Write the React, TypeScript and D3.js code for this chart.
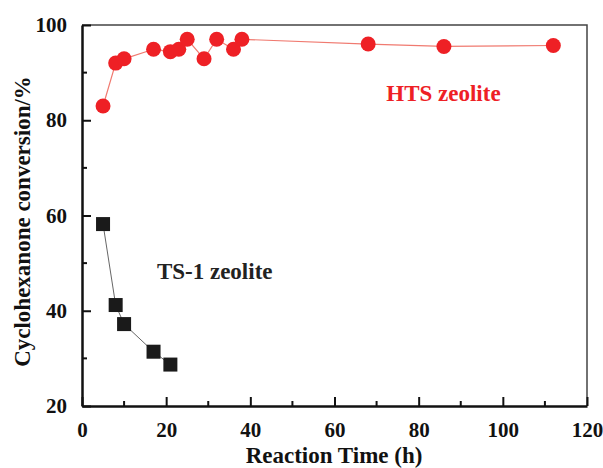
import React, { useEffect, useRef } from 'react';
import * as d3 from 'd3';

// Reaction time (h) and cyclohexanone conversion (%)
const htsTime = [5, 8, 10, 17, 21, 23, 25, 29, 32, 36, 38, 68, 86, 112];
const htsConversion = [83.0, 92.0, 92.9, 94.9, 94.4, 94.9, 97.0, 92.9, 97.0, 94.9, 97.0, 96.0, 95.5, 95.7];

const ts1Time = [5, 8, 10, 17, 21];
const ts1Conversion = [58.2, 41.2, 37.2, 31.4, 28.7];

const xTicks = [0, 20, 40, 60, 80, 100, 120];
const yTicks = [20, 40, 60, 80, 100];

const W = 603;
const H = 468;

function App() {
  const ref = useRef<SVGSVGElement>(null);

  useEffect(() => {
    const svg = d3.select(ref.current);
    svg.selectAll('*').remove();

    const margin = { top: 25, right: 16, bottom: 62, left: 82 };
    const width = W - margin.left - margin.right;
    const height = H - margin.top - margin.bottom;
    const font = '"Liberation Serif", "Times New Roman", serif';

    const g = svg.append('g').attr('transform', `translate(${margin.left},${margin.top})`);

    const x = d3.scaleLinear().domain([0, 120]).range([0, width]);
    const y = d3.scaleLinear().domain([20, 100]).range([height, 0]);

    // top / right frame
    g.append('path')
      .attr('d', `M0,0H${width}V${height}`)
      .attr('fill', 'none')
      .attr('stroke', '#444')
      .attr('stroke-width', 1.5);

    // minor ticks
    const minorX = d3.range(10, 120, 20);
    const minorY = d3.range(30, 100, 20);
    g.selectAll('.mx').data(minorX).enter().append('line')
      .attr('x1', d => x(d)).attr('x2', d => x(d))
      .attr('y1', height).attr('y2', height - 5)
      .attr('stroke', '#111').attr('stroke-width', 2);
    g.selectAll('.my').data(minorY).enter().append('line')
      .attr('y1', d => y(d)).attr('y2', d => y(d))
      .attr('x1', 0).attr('x2', 5)
      .attr('stroke', '#111').attr('stroke-width', 2);

    // x axis
    const xa = g.append('g')
      .attr('transform', `translate(0,${height})`)
      .call(d3.axisBottom(x).tickValues(xTicks).tickSizeInner(-9).tickSizeOuter(0).tickPadding(16));
    xa.select('.domain').attr('stroke', '#111').attr('stroke-width', 2.5);
    xa.selectAll('line').attr('stroke', '#111').attr('stroke-width', 2);
    xa.selectAll('text')
      .attr('font-family', font).attr('font-weight', 'bold').attr('font-size', 21).attr('fill', '#111');

    // y axis
    const ya = g.append('g')
      .call(d3.axisLeft(y).tickValues(yTicks).tickSizeInner(-9).tickSizeOuter(0).tickPadding(15));
    ya.select('.domain').attr('stroke', '#111').attr('stroke-width', 2.5);
    ya.selectAll('line').attr('stroke', '#111').attr('stroke-width', 2);
    ya.selectAll('text')
      .attr('font-family', font).attr('font-weight', 'bold').attr('font-size', 21).attr('fill', '#111');

    const hts = htsTime.map((t, i) => ({ t, v: htsConversion[i] }));
    const ts1 = ts1Time.map((t, i) => ({ t, v: ts1Conversion[i] }));

    const line = d3.line<{ t: number; v: number }>()
      .x(d => x(d.t))
      .y(d => y(d.v));

    g.append('path')
      .datum(hts)
      .attr('d', line)
      .attr('fill', 'none')
      .attr('stroke', '#f07a70')
      .attr('stroke-width', 1.2);

    g.append('path')
      .datum(ts1)
      .attr('d', line)
      .attr('fill', 'none')
      .attr('stroke', '#555')
      .attr('stroke-width', 0.9);

    g.selectAll('.hts').data(hts).enter().append('circle')
      .attr('cx', d => x(d.t))
      .attr('cy', d => y(d.v))
      .attr('r', 7.5)
      .attr('fill', '#ee2025');

    const s = 14;
    g.selectAll('.ts1').data(ts1).enter().append('rect')
      .attr('x', d => x(d.t) - s / 2)
      .attr('y', d => y(d.v) - s / 2)
      .attr('width', s)
      .attr('height', s)
      .attr('fill', '#1a1a1a');

    // series labels
    g.append('text')
      .attr('x', x(72.3)).attr('y', y(84))
      .attr('font-family', font).attr('font-weight', 'bold').attr('font-size', 23)
      .attr('fill', '#ee2025')
      .text('HTS zeolite');

    g.append('text')
      .attr('x', x(17.8)).attr('y', y(46.6))
      .attr('font-family', font).attr('font-weight', 'bold').attr('font-size', 23)
      .attr('fill', '#222')
      .text('TS-1 zeolite');

    // axis titles
    svg.append('text')
      .attr('x', 334)
      .attr('y', H - 5)
      .attr('text-anchor', 'middle')
      .attr('font-family', font).attr('font-weight', 'bold').attr('font-size', 23)
      .attr('fill', '#111')
      .text('Reaction Time (h)');

    svg.append('text')
      .attr('transform', `translate(30,${margin.top + height / 2 + 6}) rotate(-90)`)
      .attr('text-anchor', 'middle')
      .attr('font-family', font).attr('font-weight', 'bold').attr('font-size', 23)
      .attr('fill', '#111')
      .text('Cyclohexanone conversion/%');
  }, []);

  return (
    <svg ref={ref} width={W} height={H} style={{ position: 'absolute', left: 0, top: 0, background: '#fff' }} />
  );
}

export default App;
